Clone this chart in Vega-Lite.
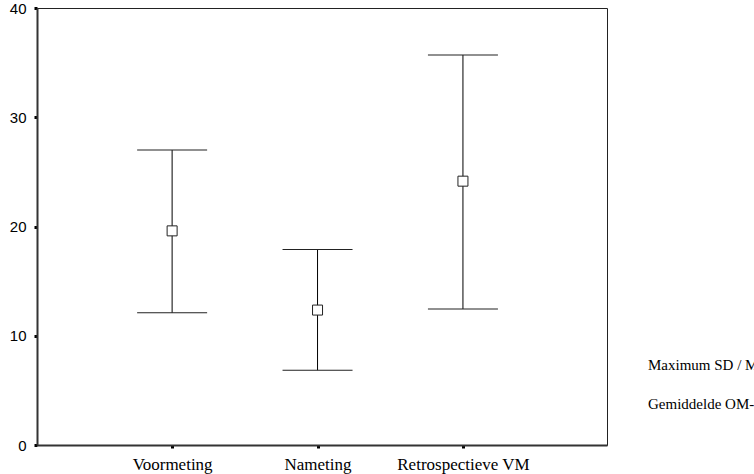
{
  "$schema": "https://vega.github.io/schema/vega-lite/v6.json",
  "width": 570,
  "height": 437,
  "autosize": "none",
  "padding": {"left": 37, "top": 8, "right": 147, "bottom": 29},
  "background": "white",
  "config": {
    "view": {"stroke": "#222", "strokeWidth": 1},
    "axis": {"grid": false, "title": null, "labelColor": "black", "tickColor": "black", "tickSize": 3, "tickWidth": 3, "domainColor": "#333", "domainWidth": 2}
  },
  "data": {
    "values": [
      {"group": "Voormeting", "mean": 19.6, "low": 12.1, "high": 27.0},
      {"group": "Nameting", "mean": 12.35, "low": 6.85, "high": 17.9},
      {"group": "Retrospectieve VM", "mean": 24.15, "low": 12.45, "high": 35.7}
    ]
  },
  "encoding": {
    "x": {
      "field": "group",
      "type": "nominal",
      "sort": null,
      "scale": {"type": "point", "padding": 0.96, "align": 0.484},
      "axis": {"labelAngle": 0, "labelFont": "Liberation Serif", "labelFontSize": 17, "labelPadding": 8, "labelLimit": 0}
    }
  },
  "layer": [
    {
      "mark": {"type": "rule", "color": "black", "strokeWidth": 1},
      "encoding": {
        "y": {"field": "low", "type": "quantitative", "scale": {"domain": [0, 40], "nice": false, "zero": true}, "axis": {"values": [0, 10, 20, 30, 40], "labelFont": "Liberation Sans", "labelFontSize": 15, "labelPadding": 8}},
        "y2": {"field": "high"}
      }
    },
    {
      "mark": {"type": "tick", "color": "#222", "size": 70, "thickness": 1, "opacity": 1},
      "encoding": {"y": {"field": "low", "type": "quantitative"}}
    },
    {
      "mark": {"type": "tick", "color": "#222", "size": 70, "thickness": 1, "opacity": 1},
      "encoding": {"y": {"field": "high", "type": "quantitative"}}
    },
    {
      "mark": {"type": "point", "filled": false, "fill": "white", "stroke": "#222", "strokeWidth": 1, "size": 100, "opacity": 1},
      "encoding": {
        "y": {"field": "mean", "type": "quantitative"},
        "shape": {
          "datum": "Gemiddelde OM-6 score",
          "scale": {
            "domain": ["Maximum SD / Minimum SD", "Gemiddelde OM-6 score"],
            "range": ["M-1.3,-6.4L1.3,-6.4M0,-6.4L0,6.4M-1.3,6.4L1.3,6.4", "square"]
          },
          "legend": {
            "title": null,
            "orient": "none",
            "legendX": 584,
            "legendY": 349,
            "symbolSize": 49,
            "symbolFillColor": "white",
            "symbolStrokeColor": "#222",
            "symbolStrokeWidth": 1,
            "labelFont": "Liberation Serif",
            "labelFontSize": 15,
            "labelColor": "black",
            "labelLimit": 0,
            "labelOffset": 12,
            "rowPadding": 7
          }
        }
      }
    }
  ]
}
